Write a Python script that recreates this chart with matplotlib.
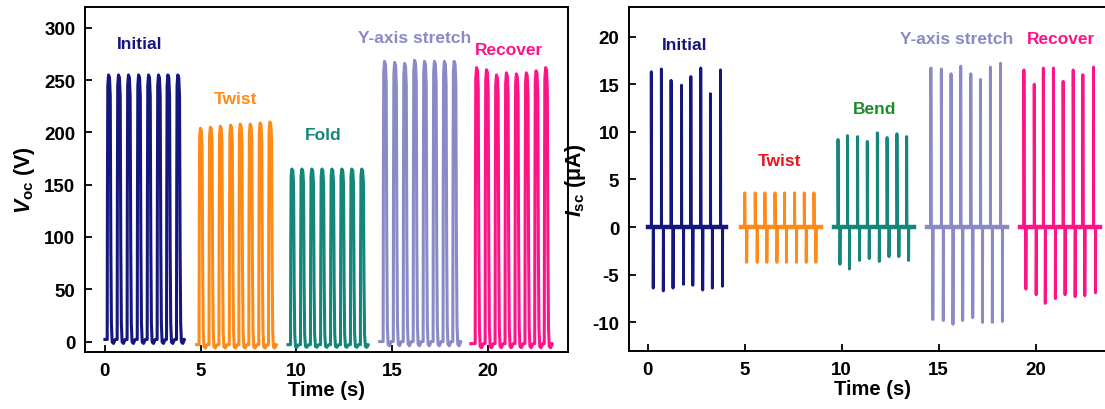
import numpy as np
import matplotlib
matplotlib.use('Agg')
import matplotlib.pyplot as plt

plt.rcParams['font.family'] = ['Liberation Sans', 'DejaVu Sans']
plt.rcParams['font.weight'] = 'bold'
plt.rcParams['axes.unicode_minus'] = False
plt.rcParams['mathtext.fontset'] = 'custom'
plt.rcParams['mathtext.rm'] = 'Liberation Sans:bold'
plt.rcParams['mathtext.it'] = 'Liberation Sans:bold:italic'

# Segmentos (mesma ordem nos dois gráficos)
cores = ['#16167f', '#ff8a17', '#14867a', '#8a8ac6', '#ff1487']

# ---- Voc ----
voc_nomes = ['Initial', 'Twist', 'Fold', 'Y-axis stretch', 'Recover']
voc_inicio = [0.0, 4.79, 9.57, 14.36, 19.12]
voc_fim = [4.0, 8.92, 13.70, 18.51, 23.35]
voc_base = [2, -3, -3, 0, -2]
voc_t_pulsos = [
    [0.12, 0.64, 1.16, 1.69, 2.21, 2.73, 3.22, 3.74],
    [4.92, 5.44, 5.96, 6.50, 7.00, 7.52, 8.04, 8.55],
    [9.70, 10.22, 10.74, 11.27, 11.79, 12.31, 12.83, 13.35],
    [14.54, 15.07, 15.59, 16.11, 16.63, 17.15, 17.67, 18.18],
    [19.35, 19.87, 20.39, 20.91, 21.43, 21.95, 22.46, 22.96],
]
voc_picos = [
    [255, 255, 255, 255, 255, 255, 255, 255],
    [204, 205, 206, 207, 208, 208, 209, 210],
    [165, 165, 165, 165, 165, 165, 165, 165],
    [268, 267, 266, 269, 268, 268, 268, 268],
    [262, 260, 255, 257, 256, 257, 259, 262],
]
# forma de um pulso de Voc (tempo relativo, fração do pico)
forma_t = [0.0, 0.012, 0.03, 0.07, 0.12, 0.16, 0.19, 0.22, 0.26, 0.33, 0.42]
forma_f = [0.0, 0.55, 0.96, 1.0, 0.99, 0.92, 0.35, 0.06, -0.01, -0.015, 0.0]
voc_rotulo_xy = [(1.8, 285), (6.85, 232), (11.4, 198), (16.2, 291), (21.1, 279)]
voc_rotulo_cor = cores

# ---- Isc ----
isc_nomes = ['Initial', 'Twist', 'Bend', 'Y-axis stretch', 'Recover']
isc_inicio = [0.0, 4.82, 9.62, 14.42, 19.20]
isc_fim = [4.03, 8.92, 13.72, 18.52, 23.30]
isc_t_picos = [
    [0.18, 0.70, 1.20, 1.74, 2.22, 2.73, 3.23, 3.75],
    [5.00, 5.54, 6.04, 6.56, 7.05, 7.57, 8.07, 8.57],
    [9.81, 10.30, 10.82, 11.32, 11.84, 12.34, 12.85, 13.35],
    [14.60, 15.14, 15.64, 16.14, 16.66, 17.16, 17.67, 18.19],
    [19.40, 19.93, 20.40, 20.92, 21.42, 21.94, 22.44, 22.99],
]
isc_pos = [
    [16.3, 16.6, 15.4, 14.9, 15.8, 16.7, 14.0, 16.5],
    [3.6, 3.6, 3.6, 3.6, 3.6, 3.6, 3.6, 3.6],
    [9.2, 9.6, 9.5, 9.0, 9.9, 9.4, 9.8, 9.5],
    [16.7, 16.6, 16.1, 16.9, 16.1, 15.5, 16.8, 17.2],
    [16.5, 15.0, 16.7, 16.7, 15.3, 16.5, 16.0, 16.8],
]
isc_neg = [
    [-6.4, -6.7, -6.4, -6.0, -6.1, -6.6, -6.4, -6.2],
    [-3.7, -3.7, -3.7, -3.7, -3.7, -3.7, -3.7, -3.7],
    [-3.9, -4.4, -3.5, -3.3, -3.6, -3.1, -3.1, -3.5],
    [-9.7, -9.8, -10.2, -9.8, -9.5, -10.0, -10.0, -9.9],
    [-6.5, -7.1, -8.0, -7.5, -7.1, -7.3, -7.2, -6.9],
]
isc_rotulo_xy = [(1.9, 19.2), (6.8, 7.0), (11.7, 12.5), (15.94, 19.8), (21.3, 19.8)]
isc_rotulo_cor = ['#16167f', '#e8141e', '#1e8c28', '#8a8ac6', '#ff1487']

fig = plt.figure(figsize=(11.05, 4.10), dpi=100)
ax1 = fig.add_axes([85 / 1105, 1 - 353 / 410, 483 / 1105, 345 / 410])
ax2 = fig.add_axes([629 / 1105, 1 - 352 / 410, 488 / 1105, 344 / 410])

# Voc
for i in range(len(voc_nomes)):
    t = [voc_inicio[i]]
    v = [voc_base[i]]
    for t0, pk in zip(voc_t_pulsos[i], voc_picos[i]):
        for dt, f in zip(forma_t, forma_f):
            t.append(t0 + dt)
            v.append(voc_base[i] + (pk - voc_base[i]) * f)
    t.append(voc_fim[i])
    v.append(voc_base[i])
    ax1.plot(t, v, color=cores[i], lw=2.2, solid_joinstyle='round')
    ax1.text(voc_rotulo_xy[i][0], voc_rotulo_xy[i][1], voc_nomes[i], color=voc_rotulo_cor[i],
             ha='center', va='center', fontsize=12.5, fontweight='bold')

# Isc
for i in range(len(isc_nomes)):
    t = [isc_inicio[i]]
    v = [0]
    for tp, p, n in zip(isc_t_picos[i], isc_pos[i], isc_neg[i]):
        t += [tp, tp, tp + 0.01, tp + 0.1, tp + 0.1, tp + 0.11]
        v += [0, p, 0, 0, n, 0]
    t.append(isc_fim[i])
    v.append(0)
    ax2.plot(t, v, color=cores[i], lw=2.1)
    ax2.plot([isc_inicio[i], isc_fim[i]], [0, 0], color=cores[i], lw=3.2)
    ax2.text(isc_rotulo_xy[i][0], isc_rotulo_xy[i][1], isc_nomes[i], color=isc_rotulo_cor[i],
             ha='center', va='center', fontsize=12.5, fontweight='bold')

ax1.set_xlim(-1.04, 24.2)
ax1.set_ylim(-10, 320)
ax1.set_yticks(range(0, 301, 50))
ax1.set_ylabel(r'$V_{\rm oc}$ (V)', fontsize=15.5, fontweight='bold', labelpad=5)

ax2.set_xlim(-0.97, 24.2)
ax2.set_ylim(-13, 23.1)
ax2.set_yticks(range(-10, 21, 5))
ax2.set_ylabel(r'$I_{\rm sc}$ (μA)', fontsize=15.5, fontweight='bold', labelpad=3)

for ax in (ax1, ax2):
    ax.set_xticks(range(0, 21, 5))
    ax.set_xlabel('Time (s)', fontsize=14.5, fontweight='bold', labelpad=1)
    ax.tick_params(direction='in', length=5, width=1.3, labelsize=13.5, pad=7,
                   top=False, right=False)
    for s in ax.spines.values():
        s.set_linewidth(1.4)
    for lab in ax.get_xticklabels() + ax.get_yticklabels():
        lab.set_fontweight('bold')

fig.savefig('out.png', dpi=100)
